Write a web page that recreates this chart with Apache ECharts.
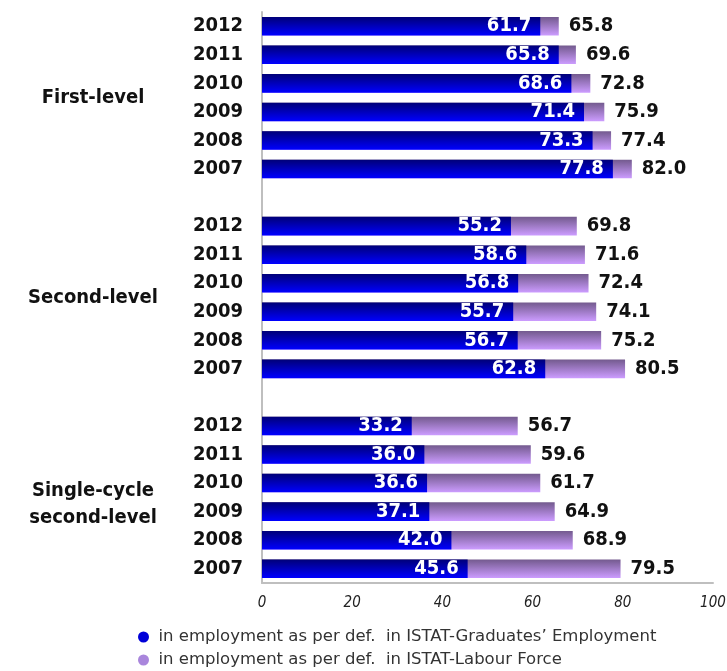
<!DOCTYPE html>
<html>
<head>
<meta charset="utf-8">
<script src="https://cdn.jsdelivr.net/npm/echarts@6/dist/echarts.min.js"></script>
<style>
  html, body { margin: 0; padding: 0; background: #fff; }
  #chart { width: 727px; height: 671px; }
</style>
</head>
<body>
<div id="chart"></div>
<script>
// values, top to bottom in each group
var groups = ['First-level', 'Second-level', 'Single-cycle\nsecond-level'];
var years = ['2012', '2011', '2010', '2009', '2008', '2007'];
var graduatesEmp = [
  [61.7, 65.8, 68.6, 71.4, 73.3, 77.8],
  [55.2, 58.6, 56.8, 55.7, 56.7, 62.8],
  [33.2, 36.0, 36.6, 37.1, 42.0, 45.6]
];
var labourForce = [
  [65.8, 69.6, 72.8, 75.9, 77.4, 82.0],
  [69.8, 71.6, 72.4, 74.1, 75.2, 80.5],
  [56.7, 59.6, 61.7, 64.9, 68.9, 79.5]
];
var xTicks = [0, 20, 40, 60, 80, 100];
var seriesNames = [
  'in employment as per def.  in ISTAT-Graduates\u2019 Employment',
  'in employment as per def.  in ISTAT-Labour Force'
];

var FONT = '"DejaVu Sans Condensed", "DejaVu Sans", sans-serif';

// build the category list with an empty slot between groups
var cats = [], blue = [], purple = [], groupPos = {};
groups.forEach(function (g, gi) {
  if (gi > 0) {
    cats.push('gap' + gi);
    blue.push('-');
    purple.push('-');
  }
  groupPos[cats.length + 3] = g;
  years.forEach(function (y, yi) {
    cats.push(gi + '_' + y);
    blue.push(graduatesEmp[gi][yi]);
    purple.push(labourForce[gi][yi]);
  });
});

var chart = echarts.init(document.getElementById('chart'));
var option = {
  backgroundColor: '#fff',
  animation: false,
  textStyle: { fontFamily: FONT },
  grid: { left: 262, right: 14, top: 12, bottom: 88, outerBoundsMode: 'none' },
  legend: {
    orient: 'vertical',
    left: 133,
    top: 621,
    height: 60,
    itemGap: 1,
    itemWidth: 20,
    itemHeight: 11,
    icon: 'circle',
    textStyle: {
      fontFamily: '"DejaVu Sans", sans-serif',
      fontSize: 16.5,
      lineHeight: 22,
      color: '#333'
    },
    data: [
      { name: seriesNames[0], itemStyle: { color: '#0000d8' } },
      { name: seriesNames[1], itemStyle: { color: '#a986dc' } }
    ]
  },
  xAxis: {
    type: 'value',
    position: 'bottom',
    min: xTicks[0],
    max: xTicks[xTicks.length - 1],
    interval: 20,
    axisLine: { show: true, onZero: false, lineStyle: { color: '#bfbfbf', width: 2 } },
    axisTick: { show: false },
    splitLine: { show: false },
    axisLabel: {
      margin: 13,
      fontSize: 15,
      fontStyle: 'italic',
      color: '#222',
      fontFamily: FONT
    }
  },
  yAxis: [
    {
      type: 'category',
      data: cats,
      inverse: true,
      axisLine: { show: true, lineStyle: { color: '#bfbfbf', width: 2 } },
      axisTick: { show: false },
      axisLabel: {
        interval: 0,
        margin: 19,
        fontSize: 20,
        fontWeight: 'bold',
        color: '#111',
        fontFamily: FONT,
        formatter: function (v) { return v.indexOf('gap') === 0 ? '' : v.split('_')[1]; }
      }
    },
    {
      // carries the group names, centred on each block of six years
      type: 'value',
      min: 0,
      max: cats.length,
      interval: 1,
      inverse: true,
      position: 'left',
      axisLine: { show: false },
      axisTick: { show: false },
      splitLine: { show: false },
      axisLabel: {
        margin: 169,
        align: 'center',
        fontSize: 20,
        fontWeight: 'bold',
        color: '#111',
        lineHeight: 27,
        fontFamily: FONT,
        formatter: function (v) {
          var g = groupPos[v];
          if (!g) return '';
          if (g.indexOf('\n') < 0) return g;
          // two-line name sits a little lower in the original
          return '{s| }\n' + g.split('\n').map(function (t) { return '{d|' + t + '}'; }).join('\n');
        },
        rich: {
          s: { lineHeight: 14, fontSize: 10 },
          d: { lineHeight: 27, fontSize: 20, fontWeight: 'bold', color: '#111', fontFamily: FONT }
        }
      }
    }
  ],
  series: [
    {
      name: seriesNames[1],
      type: 'bar',
      data: purple,
      barWidth: '65%',
      barGap: '-100%',
      itemStyle: {
        color: new echarts.graphic.LinearGradient(0, 0, 0, 1, [
          { offset: 0, color: '#735a8e' },
          { offset: 1, color: '#cc9cff' }
        ])
      },
      label: {
        show: true,
        position: 'right',
        distance: 10,
        fontSize: 20,
        fontWeight: 'bold',
        color: '#111',
        fontFamily: FONT,
        formatter: function (p) { return p.value.toFixed(1); }
      }
    },
    {
      name: seriesNames[0],
      type: 'bar',
      data: blue,
      barWidth: '65%',
      barGap: '-100%',
      itemStyle: {
        color: new echarts.graphic.LinearGradient(0, 0, 0, 1, [
          { offset: 0, color: '#000078' },
          { offset: 1, color: '#0000ff' }
        ])
      },
      label: {
        show: true,
        position: 'insideRight',
        distance: 9,
        fontSize: 20,
        fontWeight: 'bold',
        color: '#fff',
        fontFamily: FONT,
        formatter: function (p) { return p.value.toFixed(1); }
      }
    }
  ]
};
chart.setOption(option);
</script>
</body>
</html>
